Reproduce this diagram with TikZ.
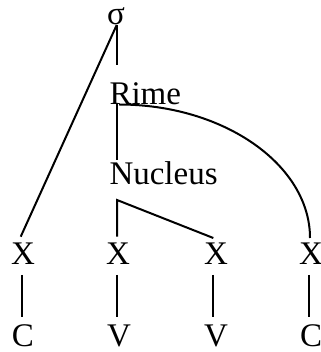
\documentclass[tikz,border=0pt]{standalone}
\usepackage{fontspec}
\setmainfont{Liberation Serif}
\begin{document}
\begin{tikzpicture}[x=1pt,y=1pt,
  lbl/.style={inner sep=0pt,outer sep=0pt,anchor=base,font=\fontsize{33}{40}\selectfont},
  lblw/.style={lbl,anchor=base west},
  branch/.style={line width=2pt,line cap=butt}]
\useasboundingbox (0,0) rectangle (320,352);
% labels
\node[lbl] (sig) at (116,327.5) {σ};
\node[lblw] (rime) at (109.5,247) {Rime};
\node[lblw] (nuc) at (109.5,167) {Nucleus};
\node[lbl] (x1) at (23,87) {X};
\node[lbl] (x2) at (118,87) {X};
\node[lbl] (x3) at (216,87) {X};
\node[lbl] (x4) at (311,87) {X};
\node[lbl] (c1) at (23,5.5) {C};
\node[lbl] (v1) at (119,5.5) {V};
\node[lbl] (v2) at (216,5.5) {V};
\node[lbl] (c2) at (311,5.5) {C};
% connector end points
\coordinate (sigB) at (116.7,327);
\coordinate (sigD) at (116.7,287);
\coordinate (rimeB) at (117,247.5);
\coordinate (rimeC) at (119,247.5);
\coordinate (rimeD) at (117,192);
\coordinate (nucB) at (117,152);
\coordinate (x1T) at (20.7,115.3);
\coordinate (x2T) at (117,115.3);
\coordinate (x3T) at (213.3,114);
\coordinate (x4T) at (310,114);
\coordinate (x1B) at (21.7,77);
\coordinate (x2B) at (116.7,77);
\coordinate (x3B) at (213.3,77);
\coordinate (x4B) at (309.3,77);
\coordinate (c1T) at (21.7,35.3);
\coordinate (v1T) at (116.7,35.3);
\coordinate (v2T) at (213.3,35.3);
\coordinate (c2T) at (309.3,35.3);
% connectors
\draw[branch] (sigB) -- (sigD);
\draw[branch] (sigB) -- (x1T);
\draw[branch] (rimeB) -- (rimeD);
\draw[branch] (rimeC) .. controls (224,247.5) and (310,187) .. (x4T);
\draw[branch] (x2T) -- (nucB) -- (x3T);
\draw[branch] (x1B) -- (c1T);
\draw[branch] (x2B) -- (v1T);
\draw[branch] (x3B) -- (v2T);
\draw[branch] (x4B) -- (c2T);
\end{tikzpicture}
\end{document}
